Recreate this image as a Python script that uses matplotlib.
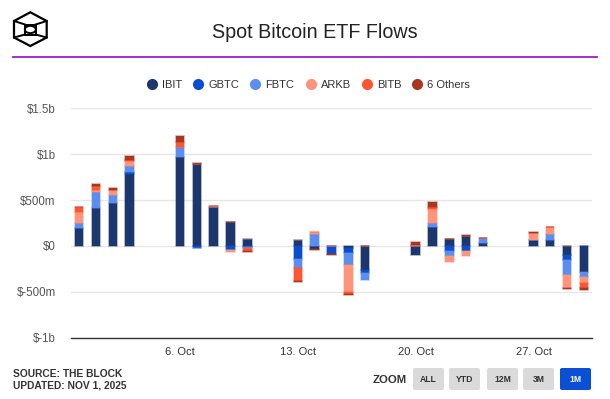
import matplotlib
matplotlib.use('Agg')
import matplotlib.pyplot as plt
import matplotlib.dates as mdates
import numpy as np
import pandas as pd
from matplotlib.lines import Line2D
from matplotlib.patches import FancyBboxPatch, Circle, Polygon

plt.rcParams['font.family'] = ['Liberation Sans', 'DejaVu Sans']

# daily net flows, $ millions
dates = pd.to_datetime([
    '2025-09-30', '2025-10-01', '2025-10-02', '2025-10-03',
    '2025-10-06', '2025-10-07', '2025-10-08', '2025-10-09', '2025-10-10',
    '2025-10-13', '2025-10-14', '2025-10-15', '2025-10-16', '2025-10-17',
    '2025-10-20', '2025-10-21', '2025-10-22', '2025-10-23', '2025-10-24',
    '2025-10-27', '2025-10-28', '2025-10-29', '2025-10-30',
])
ibit = [200, 410, 472, 784, 965, 889, 425, 261, 76,
        67, -29, 0, -22, -266, -102, 207, 76, 107, 29, 65, 65, -94, -287]
gbtc = [0, 0, 0, 22, 0, -18, 0, -40, -10,
        -140, 0, -89, -55, -33, 0, 0, -51, -51, 0, 0, 0, -58, 0]
fbtc = [54, 182, 84, 65, 112, -5, 0, -8, -8,
        -104, 131, 0, -133, -67, 0, 40, -58, 0, 58, 0, 65, -163, -47]
arkb = [113, 15, 54, 54, 0, 0, 10, -14, 0,
        0, 22, 0, -292, 0, 7, 160, -62, -58, 0, 76, 76, -145, -69]
bitb = [62, 51, 0, 15, 54, 0, 0, 0, -33,
        -141, 0, 0, -18, 0, 0, 15, 0, 0, 0, 0, 0, 0, -51]
others = [0, 22, 18, 36, 62, 14, 0, 0, -15,
          -7, -15, -10, -11, 0, 40, 58, 0, 12, 0, 8, 0, -5, -29]

names = ['IBIT', 'GBTC', 'FBTC', 'ARKB', 'BITB', '6 Others']
series = [ibit, gbtc, fbtc, arkb, bitb, others]
colors = ['#1b376d', '#0b4dcf', '#5b8eef', '#fe9479', '#fe5631', '#a9371f']

tick_dates = pd.to_datetime(['2025-10-06', '2025-10-13', '2025-10-20', '2025-10-27'])

W, H = 610, 399
fig = plt.figure(figsize=(W / 100, H / 100), dpi=100)
ax = fig.add_axes([71 / W, 1 - 337.7 / H, (592 - 71) / W, (337.7 - 108.3) / H])

x = mdates.date2num(dates)
pos_base = np.zeros(len(x))
neg_base = np.zeros(len(x))
for vals, col in zip(series, colors):
    v = np.array(vals, dtype=float)
    bottom = np.where(v >= 0, pos_base, neg_base)
    ax.bar(x, v, bottom=bottom, width=0.5, color=col,
           edgecolor=matplotlib.colors.to_rgba(col, 0.45), linewidth=1.1, zorder=3)
    pos_base += np.clip(v, 0, None)
    neg_base += np.clip(v, None, 0)

ax.set_xlim(x[0] - 0.48, x[-1] + 0.48)
ax.set_ylim(-1000, 1500)
ax.set_yticks([-1000, -500, 0, 500, 1000, 1500])

def fmt_money(v, pos=None):
    if v == 0:
        return '$0'
    if abs(v) >= 1000:
        return '$' + f'{v / 1000:g}b'
    return '$' + f'{v:g}m'

ax.yaxis.set_major_formatter(plt.FuncFormatter(fmt_money))
ax.set_xticks(mdates.date2num(tick_dates))
ax.set_xticklabels([f'{d.day}. {d:%b}' for d in tick_dates])

ax.grid(axis='y', color='#e6e6e6', linewidth=1)
ax.set_axisbelow(True)
for s in ['top', 'right', 'left']:
    ax.spines[s].set_visible(False)
ax.spines['bottom'].set_color('#333333')
ax.spines['bottom'].set_linewidth(1)
ax.tick_params(axis='x', length=0, pad=7, labelsize=8, labelcolor='#333333')
ax.tick_params(axis='y', length=0, pad=11, labelsize=8.3, labelcolor='#555555')

# title, rule and logo
fig.text(315 / W, 1 - 32 / H, 'Spot Bitcoin ETF Flows', ha='center', va='center',
         fontsize=14.2, color='#222222')
fig.add_artist(Line2D([13 / W, 597 / W], [1 - 57.3 / H, 1 - 57.3 / H],
                      color='#9b1bd9', linewidth=1.3))

def px(xp, yp):
    return (xp / W, 1 - yp / H)

hexa = [px(30.3, 12.3), px(46.7, 21), px(46.7, 37.5), px(30.3, 46), px(14, 37.5), px(14, 21)]
fig.add_artist(Polygon(hexa, closed=True, fill=False, edgecolor='black', linewidth=1.6,
                       transform=fig.transFigure))
inner = [px(25, 24.5), px(35.6, 24.5), px(35.6, 34.5), px(25, 34.5)]
for a, b in zip([px(14, 21), px(46.7, 21), px(14, 37.5), px(46.7, 37.5)],
                [inner[0], inner[1], inner[3], inner[2]]):
    fig.add_artist(Line2D([a[0], b[0]], [a[1], b[1]], color='black', linewidth=1.4))
fig.add_artist(Polygon(inner, closed=True, fill=False, edgecolor='black', linewidth=1.4,
                       transform=fig.transFigure))
fig.add_artist(Circle(px(30.3, 29.5), 3.6 / H, fill=False, edgecolor='black', linewidth=1.4,
                      transform=fig.transFigure))

# legend
handles = [Line2D([], [], linestyle='none', marker='o', markersize=7,
                  markerfacecolor=c, markeredgecolor=c) for c in colors]
fig.legend(handles, names, loc='center', bbox_to_anchor=(309 / W, 1 - 85 / H), ncol=6,
           frameon=False, fontsize=8, handlelength=0.8, handletextpad=0.5,
           columnspacing=1.05, labelcolor='#333333')

# footer
fig.text(13 / W, 1 - 374 / H, 'SOURCE: THE BLOCK', ha='left', va='center',
         fontsize=7.4, fontweight='bold', color='#333333')
fig.text(13 / W, 1 - 386 / H, 'UPDATED: NOV 1, 2025', ha='left', va='center',
         fontsize=7.4, fontweight='bold', color='#333333')
fig.text(390 / W, 1 - 380 / H, 'ZOOM', ha='center', va='center',
         fontsize=8.2, fontweight='bold', color='#333333')

buttons = ['ALL', 'YTD', '12M', '3M', '1M']
btn_left = [413, 449, 487, 523, 560]
for lab, bx in zip(buttons, btn_left):
    active = lab == '1M'
    fig.add_artist(FancyBboxPatch((bx / W, 1 - 390 / H), 31 / W, 22 / H,
                                  boxstyle='round,pad=0,rounding_size=0.004',
                                  facecolor='#0b4fd4' if active else '#dadada',
                                  edgecolor='none', transform=fig.transFigure))
    fig.text((bx + 15.5) / W, 1 - 380 / H, lab, ha='center', va='center',
             fontsize=6.2, fontweight='bold', color='white' if active else '#333333')

fig.savefig('out.png', dpi=100)
